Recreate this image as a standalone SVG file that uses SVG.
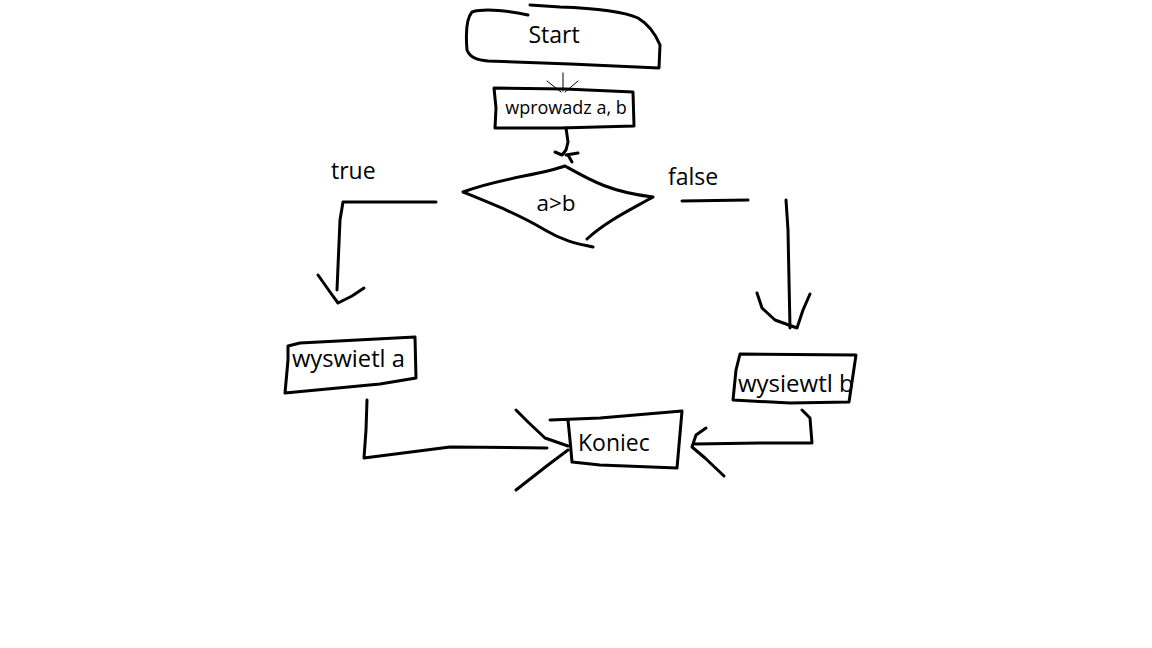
<svg xmlns="http://www.w3.org/2000/svg" width="1152" height="648" viewBox="0 0 1152 648">
<style>
.s{fill:none;stroke:#000;stroke-width:3;stroke-linecap:round;stroke-linejoin:round}
.t{fill:none;stroke:#000;stroke-width:1;stroke-linecap:round}
.l{font-family:"Open Sans","Noto Sans",sans-serif;fill:#000}
</style>
<rect width="1152" height="648" fill="#fff"/>
<g id="start">
<path class="s" d="M528,15 C510,11 485,8 472,12 C465,20 466,38 467,50 C470,58 478,60 488,61 L570,64 L659,68 L660,45 C655,33 648,24 638,18 C620,10 590,8 560,7 L530,5"/>
<text class="l" x="554" y="43" font-size="23" text-anchor="middle">Start</text>
</g>
<g id="input">
<path class="s" d="M494,88 L565,89 L633,92 L634,126 L560,128 L495,128 L496,108 Z"/>
<text class="l" x="566" y="114" font-size="18" text-anchor="middle">wprowadz a, b</text>
</g>
<g id="decision">
<path class="s" d="M565,166 C540,175 500,178 463,192 C495,205 520,215 545,230 C565,242 580,244 593,247 M565,166 C590,180 610,192 653,197 C630,210 605,222 587,239"/>
<text class="l" x="556" y="211" font-size="22.5" text-anchor="middle">a&gt;b</text>
</g>
<g id="outa">
<path class="s" d="M288,346 L300,343 L415,337 L416,378 L380,384 L285,393 L288,360 Z"/>
<text class="l" x="292" y="367" font-size="23.7">wyswietl a</text>
</g>
<g id="outb">
<path class="s" d="M740,354 L856,355 L849,402 L790,403 L733,400 L736,370 Z"/>
<text class="l" x="738" y="392" font-size="24">wysiewtl b</text>
</g>
<g id="end">
<path class="s" d="M550,420 L600,418 L682,411 L677,468 L600,465 L572,462 L570,440 L568,420"/>
<text class="l" x="578" y="451" font-size="23">Koniec</text>
</g>
<g id="labels">
<text class="l" x="331" y="179" font-size="23">true</text>
<text class="l" x="668" y="185" font-size="23">false</text>
</g>
<g id="connectors">
<path class="t" d="M563,73 L563,91 M547,81 L561,92 M578,81 L565,92"/>
<path class="s" d="M566,128 L568,142 L566,150 L562,155 L555,152 M566,155 L578,153 M568,155 L572,162"/>
<path class="s" d="M436,202 L343,202 L340,220 L337,290"/>
<path class="s" d="M318,275 L330,292 L338,303 L352,296 L364,288"/>
<path class="s" d="M682,201 L748,200"/>
<path class="s" d="M786,200 L788,230 L789,280 L790,328"/>
<path class="s" d="M757,293 L762,308 L775,320 L797,328 L803,310 L810,294"/>
<path class="s" d="M367,400 L366,430 L364,458 L450,447 L547,448"/>
<path class="s" d="M516,410 L528,422 L545,438 L568,446 M568,450 L548,465 L516,490"/>
<path class="s" d="M802,410 L810,418 L812,443 L760,443 L695,444"/>
<path class="s" d="M706,428 L696,435 L692,447 L705,458 L724,476"/>
</g>
</svg>
